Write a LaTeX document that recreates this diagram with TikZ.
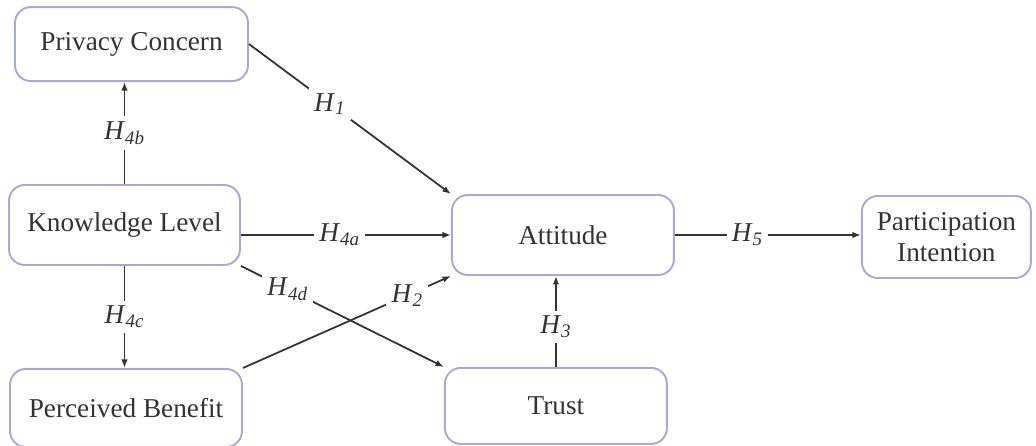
\documentclass[tikz,border=0pt]{standalone}
\usepackage{fontspec}
\setmainfont{Liberation Serif}
\usepackage{xcolor}
\usetikzlibrary{arrows.meta, positioning, calc}
\definecolor{lavender}{HTML}{A9A9D6}
\definecolor{ink}{HTML}{333333}
\newcommand{\hyp}[1]{\textit{H}\textsubscript{\textit{#1}}}

\begin{document}
\begin{tikzpicture}[
  font=\fontsize{15.5}{18}\selectfont,
  sbox/.style={rectangle, rounded corners=9pt, draw=lavender, line width=1.1pt,
               fill=white, align=center, text=ink, inner sep=2pt},
  arr/.style={-{Latex[length=1.7mm,width=1.3mm]}, draw=ink, line width=1pt},
  hlab/.style={fill=white, text=ink, inner sep=3pt},
]
  \useasboundingbox (0,0) rectangle (20.72,-8.92);

  \node[sbox, minimum width=4.62cm, minimum height=1.6cm] (know) at (2.49,-4.5) {Knowledge Level};
  \node[sbox, minimum width=4.66cm, minimum height=1.48cm, above=2.04cm of know, xshift=0.14cm] (priv) {Privacy Concern};
  \node[sbox, minimum width=4.64cm, minimum height=1.56cm, below=2.04cm of know, xshift=0.03cm] (bene) {Perceived Benefit};
  \node[sbox, minimum width=4.44cm, minimum height=1.6cm, right=4.2cm of know, yshift=-0.2cm] (atti) {Attitude};
  \node[sbox, minimum width=4.44cm, minimum height=1.52cm, below=1.82cm of atti, xshift=-0.14cm] (trust) {Trust};
  \node[sbox, minimum width=3.38cm, minimum height=1.64cm, right=3.72cm of atti, yshift=-0.04cm] (inten) {Participation\\Intention};

  \draw[arr] (priv.east) -- (atti.north west) node[hlab, pos=0.4] {\hyp{1}};
  \draw[arr] (know.east |- atti.west) -- (atti.west) node[hlab, pos=0.47] {\hyp{4a}};
  \draw[arr] (bene.north east) -- (atti.south west) node[hlab, pos=0.79] {\hyp{2}};
  \draw[arr] (know.south east) -- (trust.north west) node[hlab, pos=0.23] {\hyp{4d}};
  \draw[arr] (know.north) -- (know.north |- priv.south) node[hlab, midway] {\hyp{4b}};
  \draw[arr] (know.south) -- (bene.north -| know.south) node[hlab, midway] {\hyp{4c}};
  \draw[arr] (trust.north) -- (trust.north |- atti.south) node[hlab, pos=0.44] {\hyp{3}};
  \draw[arr] (atti.east) -- (atti.east -| inten.west) node[hlab, pos=0.39] {\hyp{5}};
\end{tikzpicture}
\end{document}
